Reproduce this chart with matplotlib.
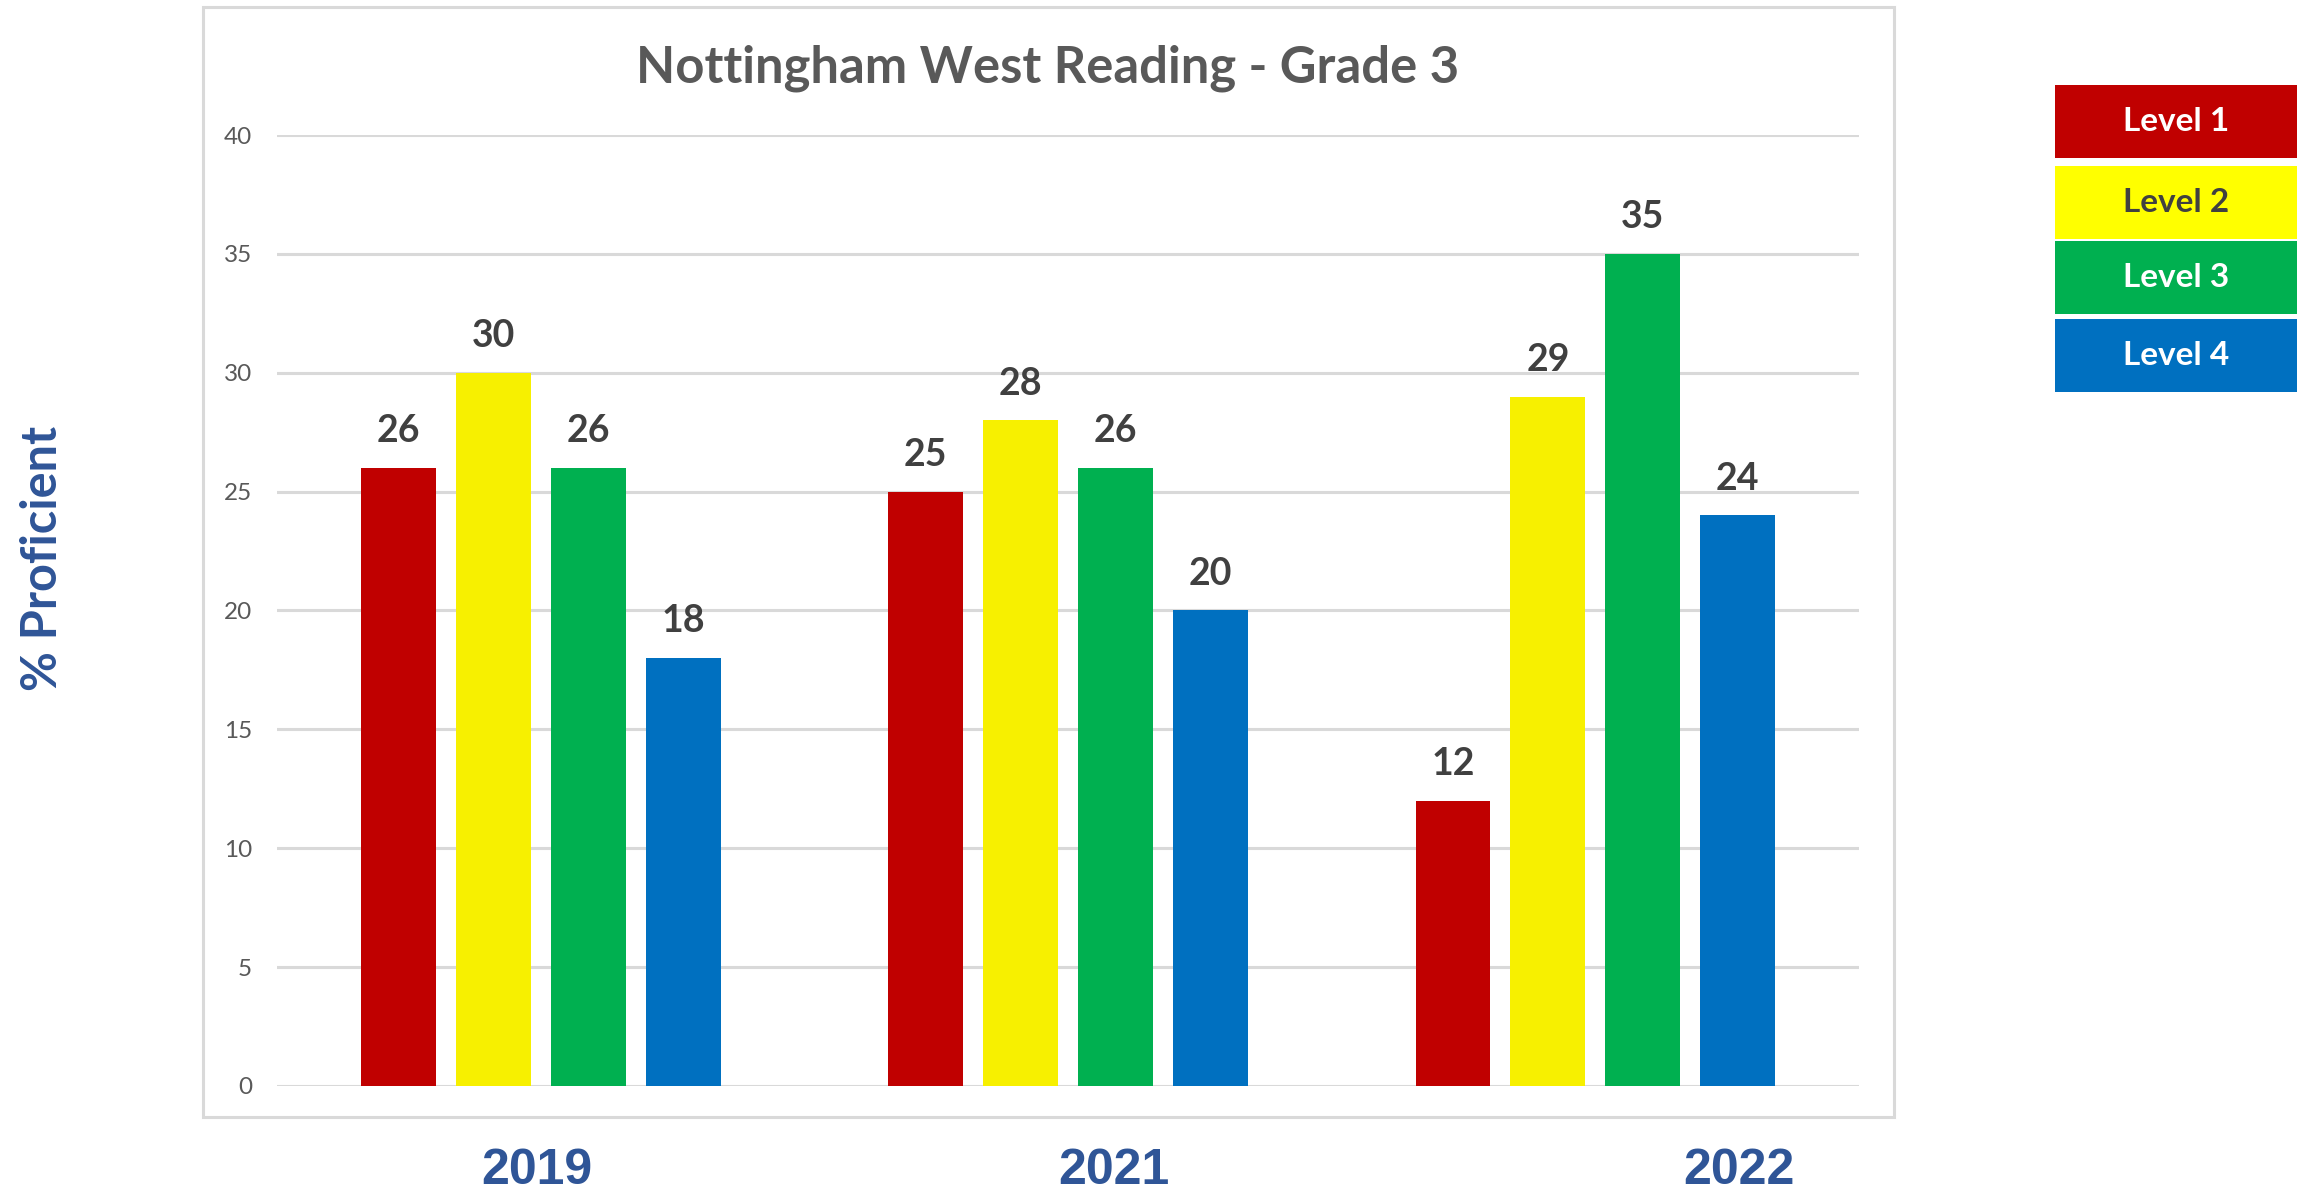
import numpy as np
import matplotlib.pyplot as plt
from matplotlib.patches import Rectangle

# scores by year and level
years = ['2019', '2021', '2022']
levels = ['Level 1', 'Level 2', 'Level 3', 'Level 4']
level1 = [26, 25, 12]
level2 = [30, 28, 29]
level3 = [26, 26, 35]
level4 = [18, 20, 24]

bar_colors = ['#C00000', '#F7F000', '#00B050', '#0070C0']
key_colors = ['#C00000', '#FFFF00', '#00B050', '#0070C0']
key_text = ['white', '#404040', 'white', 'white']

plt.rcParams['font.family'] = ['Lato', 'DejaVu Sans']

fig = plt.figure(figsize=(23.07, 11.94), dpi=100)
ax = fig.add_axes([0.1201, 0.0905, 0.6857, 0.7964])

x = np.arange(len(years))
step = 0.180
width = 0.142
series = [level1, level2, level3, level4]
for i, (vals, col) in enumerate(zip(series, bar_colors)):
    pos = x + (i - 1.5) * step
    bars = ax.bar(pos, vals, width=width, color=col, zorder=3)
    for b, v in zip(bars, vals):
        ax.annotate(str(v), (b.get_x() + b.get_width() / 2, v),
                    xytext=(0, 26.5), textcoords='offset points',
                    ha='center', va='center', fontsize=27,
                    fontweight='bold', color='#404040')

ax.set_xlim(-0.5, 2.5)
ax.set_ylim(0, 40)
ax.set_yticks(range(0, 41, 5))
ax.set_xticks([])
ax.grid(axis='y', color='#d9d9d9', linewidth=2.2, zorder=0)
ax.tick_params(axis='y', length=0, pad=18, labelsize=17.5, labelcolor='#595959')
for s in ax.spines.values():
    s.set_visible(False)

# chart frame
fig.add_artist(Rectangle((0.088, 0.0645), 0.733, 0.9296, transform=fig.transFigure,
                         fill=False, edgecolor='#d9d9d9', linewidth=2.2))

fig.text(0.4542, 0.943, 'Nottingham West Reading - Grade 3', ha='center', va='center',
         fontsize=36.5, fontweight='bold', color='#595959')

# year labels sit under the frame
year_x = [0.2328, 0.4828, 0.7538]
for xx, yr in zip(year_x, years):
    fig.text(xx, 0.0195, yr, ha='center', va='center', fontsize=36,
             fontweight='bold', color='#2F5597', family=['Liberation Sans', 'DejaVu Sans'])

fig.text(0.0185, 0.532, '% Proficient', rotation=90, ha='center', va='center',
         fontsize=35, fontweight='bold', color='#2F5597')

# colour key on the right
key_top = [85, 166, 241, 319]
key_h = 73
for top, name, col, tc in zip(key_top, levels, key_colors, key_text):
    y0 = 1 - (top + key_h) / 1194
    fig.add_artist(Rectangle((0.8908, y0), 0.1049, key_h / 1194,
                             transform=fig.transFigure, facecolor=col, edgecolor='none'))
    fig.text(0.8908 + 0.1049 / 2, y0 + key_h / 1194 / 2, name, ha='center', va='center',
             fontsize=24, fontweight='bold', color=tc)

fig.savefig('out.png', dpi=100)
